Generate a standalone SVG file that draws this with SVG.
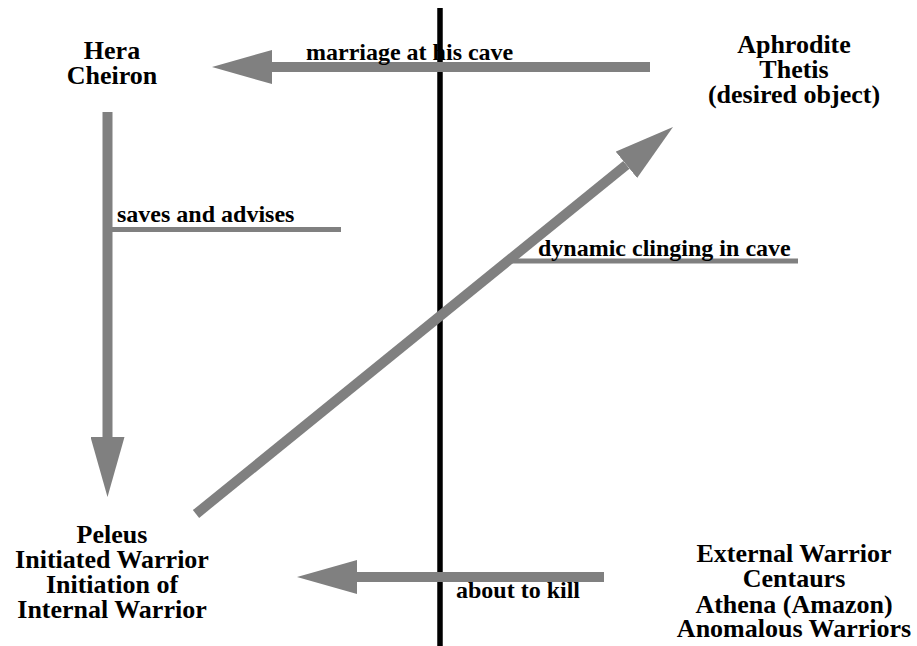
<svg xmlns="http://www.w3.org/2000/svg" width="917" height="646" viewBox="0 0 917 646">
<style>
.node text{font-family:"Liberation Serif","Times New Roman",serif;font-weight:bold;font-size:26px;fill:#000;text-anchor:middle}
.lbl{font-family:"Liberation Serif","Times New Roman",serif;font-weight:bold;font-size:24px;fill:#000}
.arr{stroke:#808080;stroke-width:10;fill:none;stroke-linecap:butt}
.tick{stroke:#808080;stroke-width:5;fill:none}
</style>
<defs>
<marker id="head" viewBox="0 -17 60 34" refX="0" refY="0" markerWidth="60" markerHeight="34" markerUnits="userSpaceOnUse" orient="auto">
<path d="M0,-17 L60,0 L0,17 Z" fill="#808080"/>
</marker>
</defs>
<rect width="917" height="646" fill="#fff"/>
<line x1="440" y1="8" x2="440" y2="646" stroke="#000" stroke-width="5.5"/>
<g id="connectors">
<line class="arr" x1="650" y1="67" x2="272" y2="67" marker-end="url(#head)"/>
<line class="arr" x1="107.5" y1="112" x2="107.5" y2="437" marker-end="url(#head)"/>
<line class="arr" x1="196" y1="514" x2="626.4" y2="164.8" marker-end="url(#head)"/>
<line class="arr" x1="604" y1="577" x2="357" y2="577" marker-end="url(#head)"/>
<line class="tick" x1="110" y1="229.5" x2="341" y2="229.5"/>
<line class="tick" x1="510" y1="261" x2="798" y2="261"/>
<text class="lbl" x="306" y="60">marriage at his cave</text>
<text class="lbl" x="117" y="222">saves and advises</text>
<text class="lbl" x="538" y="256">dynamic clinging in cave</text>
<text class="lbl" x="456" y="598">about to kill</text>
</g>
<g id="hera" class="node">
<text x="112" y="59">Hera</text>
<text x="112" y="84">Cheiron</text>
</g>
<g id="aphrodite" class="node">
<text x="794" y="53">Aphrodite</text>
<text x="794" y="78">Thetis</text>
<text x="794" y="103">(desired object)</text>
</g>
<g id="peleus" class="node">
<text x="112" y="543">Peleus</text>
<text x="112" y="568">Initiated Warrior</text>
<text x="112" y="593">Initiation of</text>
<text x="112" y="618">Internal Warrior</text>
</g>
<g id="external" class="node">
<text x="794" y="562">External Warrior</text>
<text x="794" y="587">Centaurs</text>
<text x="794" y="613">Athena (Amazon)</text>
<text x="794" y="637">Anomalous Warriors</text>
</g>
</svg>
